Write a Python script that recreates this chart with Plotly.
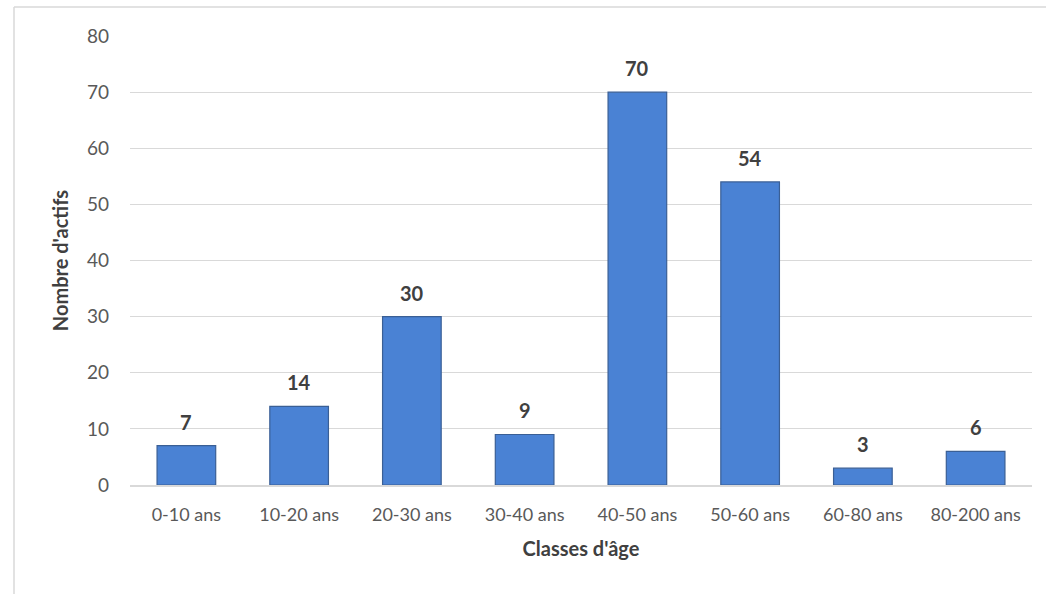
import plotly.graph_objects as go

categories = ["0-10 ans", "10-20 ans", "20-30 ans", "30-40 ans",
              "40-50 ans", "50-60 ans", "60-80 ans", "80-200 ans"]
actifs = [7, 14, 30, 9, 70, 54, 3, 6]
y_ticks = [0, 10, 20, 30, 40, 50, 60, 70, 80]

FONT = "Lato, Open Sans, sans-serif"
TICK_COLOR = "#595959"
TITLE_COLOR = "#404040"

fig = go.Figure()

fig.add_trace(go.Bar(
    x=categories, y=actifs,
    width=0.52,
    marker=dict(color="#4a82d4", line=dict(color="#3a5f95", width=1.2)),
    hoverinfo="x+y",
))

# value labels above the bars
for c, v in zip(categories, actifs):
    fig.add_annotation(
        x=c, y=v, text=f"<b>{v}</b>", showarrow=False,
        yanchor="bottom", yshift=10,
        font=dict(family=FONT, size=20, color=TITLE_COLOR),
    )

# outer chart frame (top and left edges)
fig.add_shape(type="line", xref="paper", yref="paper",
              x0=-0.1286, x1=1.2, y0=1.0646, y1=1.0646,
              line=dict(color="#d9d9d9", width=1.5))
fig.add_shape(type="line", xref="paper", yref="paper",
              x0=-0.1286, x1=-0.1286, y0=-0.5, y1=1.0646,
              line=dict(color="#d9d9d9", width=1.5))

fig.update_layout(
    width=1046, height=594,
    margin=dict(l=130, r=14, t=36, b=109),
    paper_bgcolor="white", plot_bgcolor="white",
    showlegend=False,
    font=dict(family=FONT, color=TICK_COLOR),
)
fig.update_xaxes(
    showgrid=False, showline=True, linecolor="#d9d9d9", linewidth=1.5,
    tickfont=dict(size=18, color=TICK_COLOR), ticks="", ticklabelstandoff=13,
    title=dict(text="<b>Classes d'âge</b>", standoff=18,
               font=dict(size=20, color=TITLE_COLOR)),
)
fig.update_yaxes(
    range=[0, 80], tickvals=y_ticks, showgrid=True, gridcolor="#d9d9d9",
    gridwidth=1, zeroline=False, showline=False,
    tickfont=dict(size=19, color=TICK_COLOR), ticks="", ticklabelstandoff=20,
    title=dict(text="<b>Nombre d'actifs</b>", standoff=12,
               font=dict(size=20, color=TITLE_COLOR)),
)

fig.write_html("out.html")
